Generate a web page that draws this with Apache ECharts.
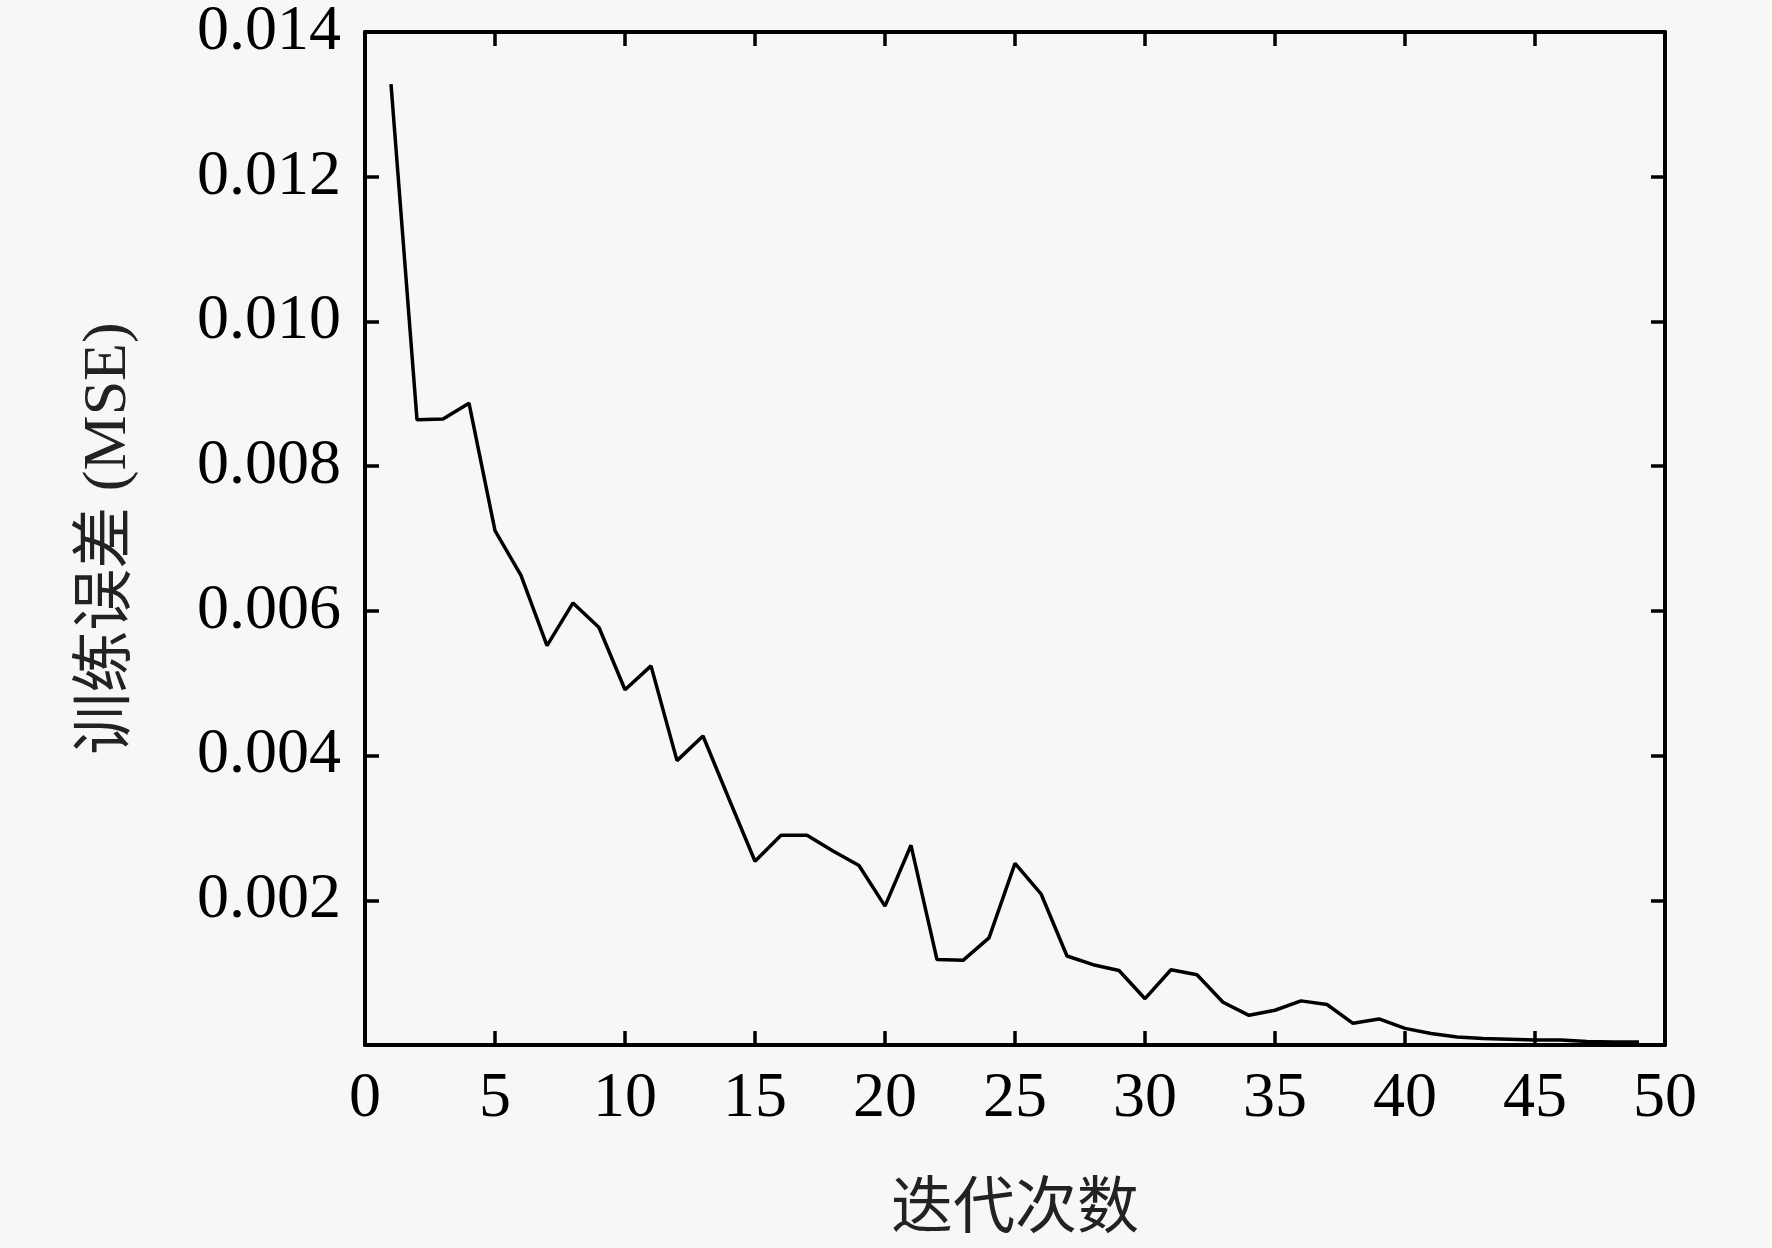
<!DOCTYPE html>
<html>
<head>
<meta charset="utf-8">
<style>
  html, body { margin: 0; padding: 0; background: #f7f7f7; }
  #chart { width: 1772px; height: 1248px; }
</style>
<script src="https://cdn.jsdelivr.net/npm/echarts@6/dist/echarts.min.js"></script>
</head>
<body>
<div id="chart"></div>
<script>
// iteration number and training error
var iterations = [1, 2, 3, 4, 5, 6, 7, 8, 9, 10,
  11, 12, 13, 14, 15, 16, 17, 18, 19, 20,
  21, 22, 23, 24, 25, 26, 27, 28, 29, 30,
  31, 32, 33, 34, 35, 36, 37, 38, 39, 40,
  41, 42, 43, 44, 45, 46, 47, 48, 49];
var mse = [0.01328, 0.00864, 0.00865, 0.00887, 0.00711, 0.00649, 0.00552, 0.00611, 0.00577, 0.00491,
  0.00524, 0.00393, 0.00427, 0.00340, 0.00254, 0.00290, 0.00290, 0.00268, 0.00248, 0.00192,
  0.00276, 0.00118, 0.00117, 0.00148, 0.00251, 0.00209, 0.00123, 0.00111, 0.00103, 0.00064,
  0.00104, 0.00097, 0.00059, 0.00041, 0.00048, 0.00061, 0.00056, 0.00030, 0.00036, 0.00023,
  0.00016, 0.00011, 0.00009, 0.00008, 0.00007, 0.00007, 0.00005, 0.00004, 0.00004];
var xTicks = { min: 0, max: 50, interval: 5 };
var yTicks = { min: 0, max: 0.014, interval: 0.002 };

var serif = 'Liberation Serif, Noto Sans CJK SC, serif';
var ink = '#000';

function frameAxis(pos, range) {
  return {
    type: 'value',
    position: pos,
    min: range.min,
    max: range.max,
    interval: range.interval,
    splitLine: { show: false },
    axisLine: { show: true, onZero: false, lineStyle: { color: ink, width: 4 } },
    axisTick: { show: true, inside: true, length: 14, lineStyle: { color: ink, width: 3.5 } },
    axisLabel: { show: false }
  };
}

var chart = echarts.init(document.getElementById('chart'), null, { renderer: 'canvas' });

var xBottom = frameAxis('bottom', xTicks);
xBottom.axisLabel = { show: true, color: ink, fontFamily: serif, fontSize: 64, margin: 22 };
xBottom.name = '迭代次数';
xBottom.nameLocation = 'middle';
xBottom.nameGap = 136;
xBottom.nameTextStyle = { color: '#222', fontFamily: serif, fontSize: 62 };

var yLeft = frameAxis('left', yTicks);
yLeft.axisLabel = {
  show: true, color: ink, fontFamily: serif, fontSize: 64, margin: 24,
  formatter: function(v) { return v === 0 ? '' : v.toFixed(3); }
};
yLeft.name = '训练误差 (MSE)';
yLeft.nameLocation = 'middle';
yLeft.nameGap = 225;
yLeft.nameTextStyle = { color: '#222', fontFamily: serif, fontSize: 62 };

chart.setOption({
  animation: false,
  backgroundColor: '#f7f7f7',
  grid: { left: 365, right: 107, top: 32, bottom: 202 },
  xAxis: [xBottom, frameAxis('top', xTicks)],
  yAxis: [yLeft, frameAxis('right', yTicks)],
  series: [{
    type: 'line',
    xAxisIndex: 0,
    yAxisIndex: 0,
    symbol: 'none',
    lineStyle: { color: ink, width: 3.5 },
    data: iterations.map(function(x, i) { return [x, mse[i]]; })
  }]
});
</script>
</body>
</html>
